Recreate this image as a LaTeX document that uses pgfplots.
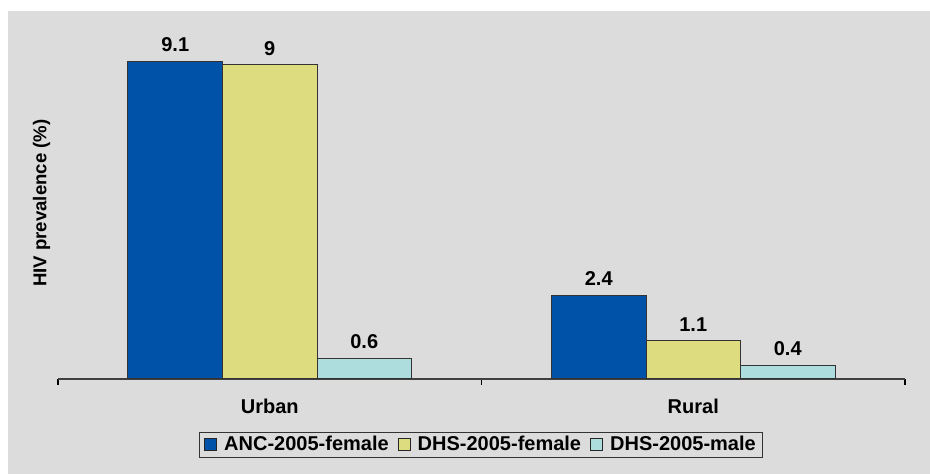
\documentclass[border=0pt]{standalone}
\usepackage{pgfplots}
\pgfplotsset{compat=1.18}
\usepackage{fontspec}
\setmainfont{Liberation Sans}

\definecolor{bgGray}{RGB}{220,220,220}
\definecolor{ancBlue}{RGB}{0,81,168}
\definecolor{dhsYellow}{RGB}{221,221,128}
\definecolor{dhsCyan}{RGB}{174,221,221}

\begin{document}
\begin{tikzpicture}
\useasboundingbox (0,0) rectangle (465pt,237pt);
\fill[white] (0,0) rectangle (465pt,237pt);
\fill[bgGray] (4pt,0) rectangle (465pt,231.5pt);
\begin{axis}[
    at={(29pt,47.5pt)}, anchor=south west,
    scale only axis,
    width=423.5pt, height=174.5pt,
    xmin=0, xmax=2, ymin=0, ymax=10,
    axis x line=bottom, axis y line=left,
    x axis line style={-, black!75, line width=0.6pt},
    y axis line style={draw=none},
    ytick=\empty,
    xtick={0.5,1.5},
    xticklabels={Urban,Rural},
    major tick length=0pt,
    minor xtick={0,1,2},
    minor tick length=3pt,
    tick align=inside,
    minor tick style={black, line width=0.6pt},
    xticklabel style={font=\bfseries\fontsize{10}{12}\selectfont, anchor=north, inner sep=0pt, yshift=-10pt},
    ybar=0pt, bar width=47.25pt,
    /pgf/number format/assume math mode=true,
    /pgf/number format/fixed,
    nodes near coords,
    nodes near coords style={font=\bfseries\fontsize{10}{12}\selectfont, yshift=1.2pt},
    ylabel={\bfseries HIV prevalence (\%)},
    every axis y label/.style={at={(axis description cs:-0.0195,0.504)}, rotate=90, anchor=center, font=\fontsize{9.3}{11}\selectfont},
    legend columns=3,
    legend cell align=left,
    legend image code/.code={\draw[#1, draw=black!85, line width=0.5pt] (0pt,-3pt) rectangle (6pt,3pt);},
    legend style={at={(axis description cs:0.4994,-0.1891)}, anchor=center,
        fill=bgGray, draw=black!80, line width=0.6pt,
        font=\bfseries\fontsize{10}{12}\selectfont,
        inner xsep=2.5pt, inner ysep=1pt,
        nodes={inner sep=1pt},
        /tikz/every odd column/.append style={column sep=2.5pt},
        /tikz/every even column/.append style={column sep=3.5pt}},
]
\addplot[fill=ancBlue, draw=black!80, line width=0.5pt] coordinates {(0.5,9.1) (1.5,2.4)};
\addplot[fill=dhsYellow, draw=black!80, line width=0.5pt] coordinates {(0.5,9.0) (1.5,1.1)};
\addplot[fill=dhsCyan, draw=black!80, line width=0.5pt] coordinates {(0.5,0.6) (1.5,0.4)};
\legend{ANC-2005-female, DHS-2005-female, DHS-2005-male}
\end{axis}
\end{tikzpicture}
\end{document}
